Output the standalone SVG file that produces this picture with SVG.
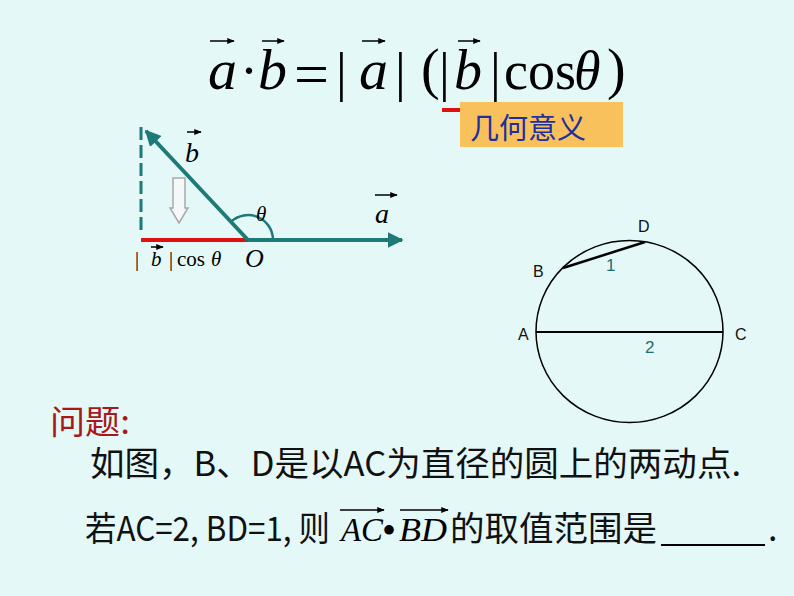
<svg xmlns="http://www.w3.org/2000/svg" width="794" height="596" viewBox="0 0 794 596">
<style>
.m{font-family:"Liberation Serif","Times New Roman",serif;fill:#000}
.i{font-style:italic}
.cj{font-family:"Noto Sans CJK SC","Noto Sans",sans-serif;fill:#111}
.lab{font-family:"Liberation Sans",Arial,sans-serif;font-size:16px;fill:#111}
.num{font-family:"Liberation Sans",Arial,sans-serif;font-size:17px;fill:#1d6f6f}
.teal{stroke:#1d7a76;stroke-width:4;fill:none}
.vec{stroke:#000;stroke-width:1.5;fill:none}
</style>
<defs>
<marker id="ah" viewBox="0 0 10 10" refX="9" refY="5" markerWidth="4" markerHeight="4" orient="auto" markerUnits="strokeWidth">
<path d="M0,0 L10,5 L0,10 Z" fill="#1d7a76"/>
</marker>
<marker id="sv" viewBox="0 0 10 10" refX="9" refY="5" markerWidth="5" markerHeight="5" orient="auto" markerUnits="strokeWidth">
<path d="M0,1 L10,5 L0,9 Z" fill="#000"/>
</marker>
</defs>
<rect width="794" height="596" fill="#e4f8f8"/>

<g id="formula">
<text class="m i" x="208" y="89" font-size="58">a</text>
<text class="m" x="240" y="89" font-size="54">·</text>
<text class="m i" x="258" y="89" font-size="58">b</text>
<text class="m" x="294" y="95" font-size="62">=</text>
<text class="m" x="336" y="90" font-size="54">|</text>
<text class="m i" x="359" y="89" font-size="58">a</text>
<text class="m" x="395" y="90" font-size="54">|</text>
<text class="m" x="421" y="88" font-size="56">(</text>
<text class="m" x="439" y="90" font-size="54">|</text>
<text class="m i" x="454" y="89" font-size="56">b</text>
<text class="m" x="490" y="90" font-size="54">|</text>
<text class="m" x="504" y="89" font-size="54">cos</text>
<text class="m i" x="574" y="89" font-size="54">θ</text>
<text class="m" x="607" y="88" font-size="56">)</text>
<line class="vec" x1="210" y1="41" x2="234" y2="41" marker-end="url(#sv)"/>
<line class="vec" x1="262" y1="41" x2="284" y2="41" marker-end="url(#sv)"/>
<line class="vec" x1="362" y1="41" x2="385" y2="41" marker-end="url(#sv)"/>
<line class="vec" x1="458" y1="41" x2="480" y2="41" marker-end="url(#sv)"/>
</g>

<g id="geo-label">
<line x1="442" y1="110" x2="461" y2="110" stroke="#e01010" stroke-width="4"/>
<rect x="460" y="102" width="163" height="45" fill="#f8c15c"/>
<text class="cj" x="470" y="139" font-size="29" style="fill:#1f2fa0">几何意义</text>
</g>

<g id="projection">
<line x1="141" y1="127" x2="141" y2="232" stroke="#1d7a76" stroke-width="3" stroke-dasharray="13 5"/>
<path d="M173,178 H185 V208 H188 L179,223 L170,208 H173 Z" fill="#f4f8f8" stroke="#a8a8a8" stroke-width="1.5"/>
<line x1="141" y1="240" x2="248" y2="240" stroke="#e01010" stroke-width="4"/>
<path d="M273,240 A25,25 0 0 0 230.9,221.8" stroke="#1d7a76" stroke-width="2.5" fill="none"/>
<text class="m i" x="185" y="162" font-size="28">b</text>
<line class="vec" x1="187" y1="132" x2="201" y2="132" marker-end="url(#sv)"/>
<text class="m i" x="375" y="223" font-size="28">a</text>
<line class="vec" x1="375" y1="195" x2="397" y2="195" marker-end="url(#sv)"/>
<text class="m i" x="256" y="221" font-size="21">θ</text>
<text class="m" x="135" y="266" font-size="20">|</text>
<text class="m i" x="151" y="266" font-size="21">b</text>
<line class="vec" x1="151" y1="247" x2="163" y2="247" stroke-width="1" marker-end="url(#sv)"/>
<text class="m" x="169" y="266" font-size="20">|</text>
<text class="m" x="177" y="266" font-size="21">cos</text>
<text class="m i" x="211" y="266" font-size="21">θ</text>
<text class="m i" x="245" y="267" font-size="26">O</text>
</g>

<g id="connectors">
<line class="teal" x1="248" y1="240" x2="146" y2="131" marker-end="url(#ah)"/>
<line class="teal" x1="248" y1="240" x2="402" y2="240" marker-end="url(#ah)"/>
</g>

<g id="circle">
<ellipse cx="629.5" cy="331.5" rx="93.5" ry="91" fill="none" stroke="#000" stroke-width="1.5"/>
<line x1="536" y1="332" x2="723" y2="332" stroke="#000" stroke-width="2"/>
<line x1="563" y1="268" x2="645" y2="242" stroke="#000" stroke-width="2.5"/>
<text class="lab" x="518" y="340">A</text>
<text class="lab" x="735" y="340">C</text>
<text class="lab" x="533" y="277">B</text>
<text class="lab" x="638" y="232">D</text>
<text class="num" x="606" y="271">1</text>
<text class="num" x="645" y="353">2</text>
</g>

<g id="question">
<text class="cj" x="50" y="434" font-size="33" style="fill:#a81818" textLength="80" lengthAdjust="spacingAndGlyphs">问题:</text>
<text class="cj" x="90" y="476" font-size="34" textLength="651" lengthAdjust="spacingAndGlyphs">如图，B、D是以AC为直径的圆上的两动点.</text>
<text y="541" font-size="34"><tspan class="cj" x="85" textLength="245" lengthAdjust="spacingAndGlyphs">若AC=2, BD=1, 则</tspan><tspan class="m i" x="341" textLength="42" lengthAdjust="spacingAndGlyphs">AC</tspan><tspan class="m" x="382" y="544" font-size="40">•</tspan><tspan class="m i" x="399" y="541" textLength="48" lengthAdjust="spacingAndGlyphs">BD</tspan><tspan class="cj" x="450" textLength="207" lengthAdjust="spacingAndGlyphs">的取值范围是</tspan></text>
<line class="vec" x1="340" y1="510" x2="384" y2="510" marker-end="url(#sv)"/>
<line class="vec" x1="400" y1="510" x2="448" y2="510" marker-end="url(#sv)"/>
<line x1="661" y1="545" x2="765" y2="545" stroke="#000" stroke-width="2"/>
<text class="cj" x="768" y="541" font-size="34">.</text>
</g>
</svg>
